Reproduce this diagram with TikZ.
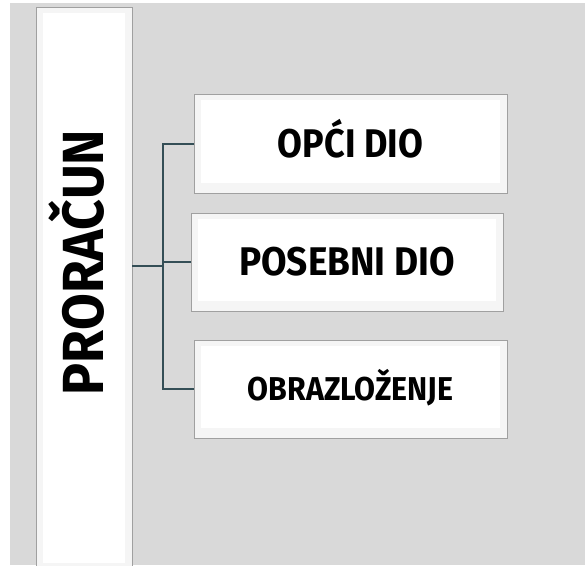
\documentclass[tikz,border=0pt]{standalone}
\usepackage{fontspec}
\setmainfont{Fira Sans}
\usepackage{graphicx}
\usetikzlibrary{positioning}
\definecolor{pagegrey}{RGB}{217,217,217}
\definecolor{rimgrey}{RGB}{160,160,160}
\definecolor{linkslate}{RGB}{52,78,86}
\tikzset{%
	every bevel/.style={
		draw=rimgrey,
		line width=0.8pt,
		fill=white,
		inner sep=0pt,
		font=\bfseries,
		path picture={
			\fill[black!4] (path picture bounding box.south west) rectangle (path picture bounding box.north east);
			\fill[white] ([shift={(7pt,-6pt)}]path picture bounding box.north west) rectangle ([shift={(-7pt,10pt)}]path picture bounding box.south east);
		}
	},
	part text/.style={
		font=\bfseries,
		inner sep=0pt,
		text=black
	},
	link/.style={
		draw=linkslate,
		line width=2pt
	},
}
% size, horizontal squeeze, text (box as tall as the capitals)
\newcommand{\narrow}[3]{\fontsize{#1}{#1}\selectfont\scalebox{#2}[1]{\vphantom{H}\smash{#3}}}

\begin{document}
\begin{tikzpicture}[x=1pt,y=-1pt]
			\useasboundingbox (0,0) rectangle (585,565);
			% grey panel
			\fill[pagegrey] (10,3) rectangle (585,565);
			
			% tall box on the left
			\node[every bevel, minimum width=96pt, minimum height=566pt] (proracun) at (84,290) {};
			\node[part text, rotate=90] (proracun text) at (83,262.5) {\narrow{58}{0.92}{PRORAČUN}};
			
			% three boxes on the right
			\node[every bevel, minimum width=313pt, minimum height=99pt] (opci) at (350.5,143.5) {\narrow{40}{0.90}{OPĆI DIO}};
			\node[every bevel, minimum width=312pt, minimum height=98pt] (posebni) at (347,262) {\narrow{40}{0.925}{POSEBNI DIO}};
			\node[every bevel, minimum width=313pt, minimum height=98pt] (obrazlozenje) at (350.5,389) {\narrow{33}{0.92}{OBRAZLOŽENJE}};
			
			% connectors
			\coordinate (fork) at (163,266);
			\draw[link] (proracun.east |- fork) -- (fork);
			\draw[link] (opci.west) -| (fork |- opci.west) -- (fork |- obrazlozenje.west) -- (obrazlozenje.west);
			\draw[link] (fork |- posebni.west) -- (posebni.west);
		\end{tikzpicture}
\end{document}
